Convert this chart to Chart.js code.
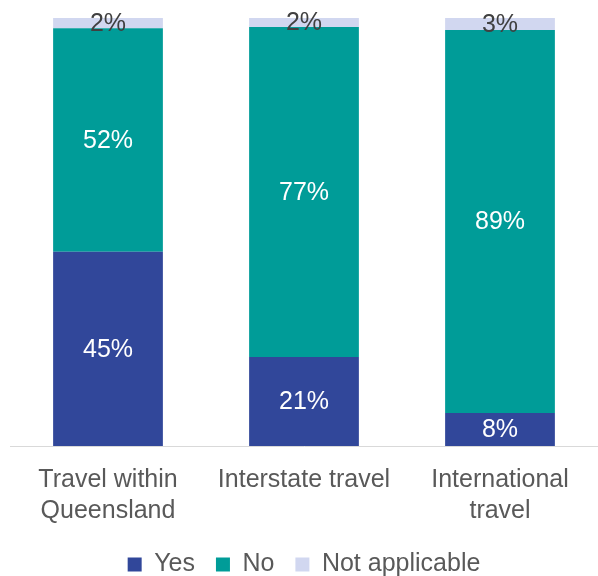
<!DOCTYPE html>
<html>
<head>
<meta charset="utf-8">
<script src="https://cdn.jsdelivr.net/npm/chart.js@4.4.0/dist/chart.umd.min.js"></script>
<style>
    html, body { margin: 0; padding: 0; background: #ffffff; }
    .chart-wrapper { width: 598px; height: 576px; }
</style>
</head>
<body>
<div class="chart-wrapper"><canvas id="chart1" width="598" height="576"></canvas></div>

<script>
    // categories (two-line labels) and series values in percent
    var categories = [["Travel within", "Queensland"], "Interstate travel", ["International", "travel"]];
    var yesValues = [45.4, 20.8, 7.7];
    var noValues = [52.2, 77.1, 89.5];
    var naValues = [2.4, 2.1, 2.8];
    var shownLabels = {
        "Yes": ["45%", "21%", "8%"],
        "No": ["52%", "77%", "89%"],
        "Not applicable": ["2%", "2%", "3%"]
    };

    var fontFamily = "'Liberation Sans', Arial, sans-serif";

    // draws the percent labels in the middle of each segment
    var segmentLabels = {
        id: "segmentLabels",
        afterDatasetsDraw: function (chart) {
            var ctx = chart.ctx;
            ctx.save();
            ctx.font = "25px " + fontFamily;
            ctx.textAlign = "center";
            ctx.textBaseline = "middle";
            chart.data.datasets.forEach(function (ds, i) {
                var meta = chart.getDatasetMeta(i);
                meta.data.forEach(function (bar, j) {
                    var txt = shownLabels[ds.label][j];
                    ctx.fillStyle = ds.labelColor;
                    ctx.fillText(txt, bar.x, (bar.y + bar.base) / 2 + 1);
                });
            });
            ctx.restore();
        }
    };

    var chrt = document.getElementById("chart1").getContext("2d");
    new Chart(chrt, {
        type: "bar",
        data: {
            labels: categories,
            datasets: [
                { label: "Yes", data: yesValues, backgroundColor: "#31479A", labelColor: "#ffffff" },
                { label: "No", data: noValues, backgroundColor: "#009C98", labelColor: "#ffffff" },
                { label: "Not applicable", data: naValues, backgroundColor: "#D1D7F0", labelColor: "#404040" }
            ]
        },
        options: {
            responsive: false,
            animation: false,
            layout: { padding: { left: 10, right: 0, top: 18, bottom: -11 } },
            datasets: {
                bar: { categoryPercentage: 1, barPercentage: 0.56 }
            },
            scales: {
                x: {
                    stacked: true,
                    grid: { display: false, drawTicks: false },
                    border: { display: true, color: "#D9D9D9", width: 1 },
                    ticks: {
                        color: "#595959",
                        padding: 19,
                        maxRotation: 0,
                        font: { family: fontFamily, size: 25, lineHeight: 1.22 }
                    },
                    afterFit: function (scale) { scale.height -= 14; }
                },
                y: {
                    stacked: true,
                    display: false,
                    min: 0,
                    max: 100
                }
            },
            plugins: {
                tooltip: { enabled: false },
                legend: {
                    position: "bottom",
                    labels: {
                        color: "#595959",
                        boxWidth: 14,
                        boxHeight: 14,
                        padding: 21,
                        font: { family: fontFamily, size: 25 }
                    }
                }
            }
        },
        plugins: [segmentLabels]
    });
</script>
</body>
</html>
